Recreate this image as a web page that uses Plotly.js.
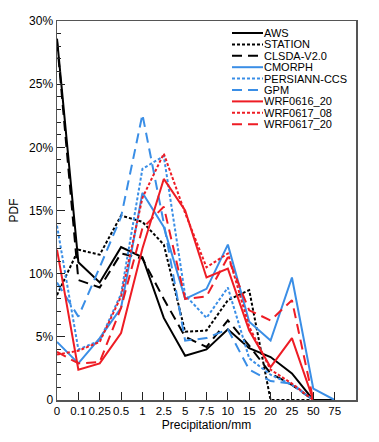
<!DOCTYPE html>
<html>
<head>
<meta charset="utf-8">
<script src="https://cdn.plot.ly/plotly-3.0.1.min.js"></script>
<style>html,body{margin:0;padding:0;background:#fff;}#chart{width:379px;height:442px;}</style>
</head>
<body>
<div id="chart"></div>
<script>
// Precipitation bins (category axis)
const categories = ['0','0.1','0.25','0.5','1','2.5','5','7.5','10','15','20','25','50','75'];

// PDF values in percent
const aws       = [28.6, 10.9, 9.3, 12.1, 11.3, 6.5, 3.5, 4.0, 5.6, 4.1, 3.4, 2.1, 0, 0];
const station   = [8.3, 11.9, 11.5, 14.6, 14.1, 12.3, 5.4, 5.5, 7.9, 8.7, 0, 0, 0, null];
const clsda     = [28.4, 9.5, 8.9, 11.6, 11.2, 8.0, 5.0, 4.2, 6.3, 4.3, 2.1, 1.2, 0, null];
const cmorph    = [4.6, 2.9, 4.9, 7.3, 16.4, 13.7, 8.0, 8.8, 12.3, 6.2, 4.7, 9.7, 0.9, 0];
const persiann  = [13.8, 4.0, 4.7, 8.4, 18.3, 19.3, 8.3, 6.5, 8.9, 3.3, 2.0, 1.2, 0, null];
const gpm       = [9.3, 6.6, 10.5, 14.5, 22.6, 14.0, 4.7, 4.9, 5.6, 2.4, 1.5, 1.3, 0, null];
const wrf061620 = [11.9, 2.4, 2.9, 5.3, 12.0, 17.5, 15.0, 9.7, 10.4, 5.5, 2.6, 4.9, 0, null];
const wrf061708 = [3.6, 3.9, 4.6, 8.2, 16.0, 19.5, 14.8, 10.5, 11.6, 5.8, 2.4, 1.3, 0, null];
const wrf061720 = [3.8, 2.9, 3.0, 7.3, 13.6, 15.3, 8.0, 8.2, 11.3, 7.1, 6.3, 7.9, 0, null];

const seriesNames = ['AWS','STATION','CLSDA-V2.0','CMORPH','PERSIANN-CCS','GPM','WRF0616_20','WRF0617_08','WRF0617_20'];
const seriesValues = [aws, station, clsda, cmorph, persiann, gpm, wrf061620, wrf061708, wrf061720];

const yTickVals = [0, 5, 10, 15, 20, 25, 30];
const yTickText = ['0', '5%', '10%', '15%', '20%', '25%', '30%'];

const BLACK = '#000000', BLUE = '#3a8ee6', RED = '#ee1c24';
const colors = [BLACK, BLACK, BLACK, BLUE, BLUE, BLUE, RED, RED, RED];
const SOLID = 'solid', DOT = '3px,2px', DASH = '10px,6px';
const dashes = [SOLID, DOT, DASH, SOLID, DOT, DASH, SOLID, DOT, DASH];

const FONT = 'Liberation Sans, Arial, sans-serif';

const traces = seriesValues.map((vals, i) => ({
  type: 'scatter', mode: 'lines', x: categories, y: vals, name: seriesNames[i],
  line: {color: colors[i], width: 2, dash: dashes[i]}, showlegend: false
}));

// manual compact legend
const shapes = [], annotations = [];
const plotTop = 21, plotH = 379, plotL = 57, plotW = 299;
seriesNames.forEach((nm, i) => {
  const ypx = 33 + i * 11.4;
  const yp = 1 - (ypx - plotTop) / plotH;
  const x0 = (232 - plotL) / plotW, x1 = (263 - plotL) / plotW;
  shapes.push({type: 'line', xref: 'paper', yref: 'paper', x0: x0, x1: x1, y0: yp, y1: yp,
    line: {color: colors[i], width: 2, dash: dashes[i]}});
  annotations.push({xref: 'paper', yref: 'paper', x: x1, y: yp, xanchor: 'left', yanchor: 'middle',
    text: nm, showarrow: false, borderpad: 0, font: {family: FONT, size: 11, color: '#000'}});
});

const layout = {
  width: 379, height: 442,
  margin: {l: 57, r: 23, t: 21, b: 42},
  paper_bgcolor: '#fff', plot_bgcolor: '#fff',
  font: {family: FONT, size: 12, color: '#000'},
  showlegend: false,
  xaxis: {
    type: 'category', range: [0, 14], showgrid: false, zeroline: false,
    tickangle: 0,
    ticks: 'inside', ticklen: 8, tickwidth: 1, tickcolor: '#222',
    showline: true, linecolor: '#555', linewidth: 1.5, mirror: true,
    tickfont: {family: FONT, size: 11.5},
    title: {text: 'Precipitation/mm', font: {family: FONT, size: 12}, standoff: 4}
  },
  yaxis: {
    range: [0, 30], tickmode: 'array', tickvals: yTickVals, ticktext: yTickText,
    showgrid: false, zeroline: false,
    ticks: 'inside', ticklen: 8, tickwidth: 1, tickcolor: '#222',
    minor: {tickmode: 'linear', tick0: 0, dtick: 1, ticks: 'inside', ticklen: 4, tickcolor: '#222', showgrid: false},
    showline: true, linecolor: '#555', linewidth: 1.5, mirror: true,
    tickfont: {family: FONT, size: 12},
    title: {text: 'PDF', font: {family: FONT, size: 12}, standoff: 8}
  },
  shapes: shapes,
  annotations: annotations
};

Plotly.newPlot('chart', traces, layout, {displayModeBar: false, staticPlot: true});
</script>
</body>
</html>
